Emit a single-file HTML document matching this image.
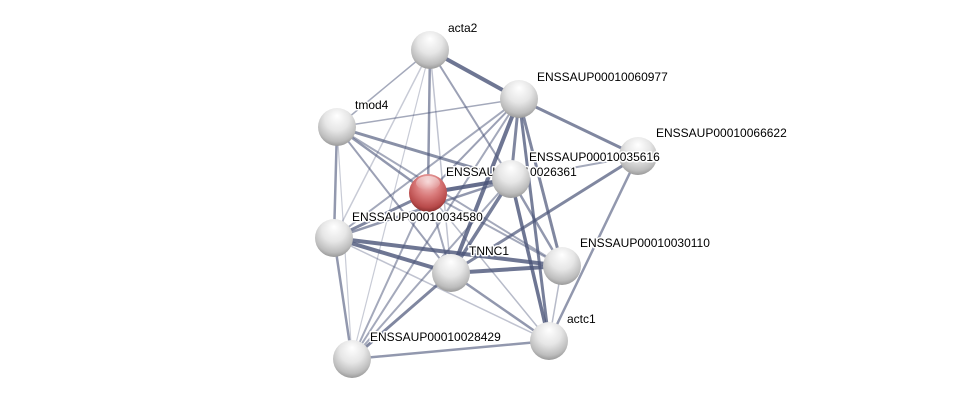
<!DOCTYPE html>
<html><head><meta charset="utf-8"><style>
html,body{margin:0;padding:0;background:#fff;}
svg{display:block;}
text{font-family:"Liberation Sans",sans-serif;font-size:12px;fill:#000;paint-order:stroke;stroke:#fff;stroke-width:3px;stroke-linejoin:round;}
</style></head><body>
<svg width="976" height="404" viewBox="0 0 976 404" xmlns="http://www.w3.org/2000/svg">
<defs>
<radialGradient id="g" cx="50%" cy="35%" r="65%" fx="50%" fy="20%">
<stop offset="0" stop-color="#ffffff"/><stop offset="0.5" stop-color="#e6e6e6"/><stop offset="0.85" stop-color="#bdbdbd"/><stop offset="1" stop-color="#9a9a9a"/>
</radialGradient>
<radialGradient id="r" cx="50%" cy="35%" r="65%" fx="50%" fy="20%">
<stop offset="0" stop-color="#f4c8c8"/><stop offset="0.5" stop-color="#d87878"/><stop offset="0.85" stop-color="#b84a4a"/><stop offset="1" stop-color="#8a3030"/>
</radialGradient>
<linearGradient id="hl" x1="0" y1="0" x2="0" y2="1"><stop offset="0" stop-color="#fff" stop-opacity="0.9"/><stop offset="1" stop-color="#fff" stop-opacity="0"/></linearGradient>
</defs>
<g stroke="#4a5478" stroke-linecap="round">
<line x1="430" y1="50" x2="519" y2="99" stroke-width="4" stroke-opacity="0.8"/>
<line x1="430" y1="50" x2="337" y2="127" stroke-width="1.5" stroke-opacity="0.5"/>
<line x1="430" y1="50" x2="428" y2="193" stroke-width="2.5" stroke-opacity="0.6"/>
<line x1="430" y1="50" x2="334" y2="238" stroke-width="1.5" stroke-opacity="0.3"/>
<line x1="430" y1="50" x2="451" y2="273" stroke-width="1.5" stroke-opacity="0.35"/>
<line x1="430" y1="50" x2="511" y2="179" stroke-width="2" stroke-opacity="0.55"/>
<line x1="430" y1="50" x2="352" y2="359" stroke-width="1.2" stroke-opacity="0.3"/>
<line x1="519" y1="99" x2="337" y2="127" stroke-width="1.5" stroke-opacity="0.5"/>
<line x1="519" y1="99" x2="638" y2="156" stroke-width="3" stroke-opacity="0.7"/>
<line x1="519" y1="99" x2="428" y2="193" stroke-width="2" stroke-opacity="0.55"/>
<line x1="519" y1="99" x2="334" y2="238" stroke-width="2" stroke-opacity="0.5"/>
<line x1="519" y1="99" x2="451" y2="273" stroke-width="4" stroke-opacity="0.8"/>
<line x1="519" y1="99" x2="511" y2="179" stroke-width="3" stroke-opacity="0.7"/>
<line x1="519" y1="99" x2="562" y2="266" stroke-width="3" stroke-opacity="0.7"/>
<line x1="519" y1="99" x2="549" y2="341" stroke-width="3" stroke-opacity="0.75"/>
<line x1="519" y1="99" x2="352" y2="359" stroke-width="2" stroke-opacity="0.5"/>
<line x1="337" y1="127" x2="334" y2="238" stroke-width="2.5" stroke-opacity="0.6"/>
<line x1="337" y1="127" x2="428" y2="193" stroke-width="2.5" stroke-opacity="0.6"/>
<line x1="337" y1="127" x2="511" y2="179" stroke-width="3" stroke-opacity="0.65"/>
<line x1="337" y1="127" x2="451" y2="273" stroke-width="2" stroke-opacity="0.55"/>
<line x1="337" y1="127" x2="562" y2="266" stroke-width="2" stroke-opacity="0.5"/>
<line x1="337" y1="127" x2="352" y2="359" stroke-width="1.2" stroke-opacity="0.3"/>
<line x1="638" y1="156" x2="511" y2="179" stroke-width="2" stroke-opacity="0.5"/>
<line x1="638" y1="156" x2="451" y2="273" stroke-width="3" stroke-opacity="0.7"/>
<line x1="638" y1="156" x2="549" y2="341" stroke-width="2.5" stroke-opacity="0.6"/>
<line x1="428" y1="193" x2="511" y2="179" stroke-width="4" stroke-opacity="0.85"/>
<line x1="428" y1="193" x2="334" y2="238" stroke-width="3" stroke-opacity="0.7"/>
<line x1="428" y1="193" x2="451" y2="273" stroke-width="2" stroke-opacity="0.5"/>
<line x1="428" y1="193" x2="562" y2="266" stroke-width="2" stroke-opacity="0.5"/>
<line x1="428" y1="193" x2="549" y2="341" stroke-width="1.5" stroke-opacity="0.4"/>
<line x1="428" y1="193" x2="352" y2="359" stroke-width="2" stroke-opacity="0.5"/>
<line x1="511" y1="179" x2="334" y2="238" stroke-width="2.5" stroke-opacity="0.6"/>
<line x1="511" y1="179" x2="451" y2="273" stroke-width="3.5" stroke-opacity="0.75"/>
<line x1="511" y1="179" x2="562" y2="266" stroke-width="2.5" stroke-opacity="0.6"/>
<line x1="511" y1="179" x2="549" y2="341" stroke-width="3.5" stroke-opacity="0.8"/>
<line x1="511" y1="179" x2="352" y2="359" stroke-width="2" stroke-opacity="0.5"/>
<line x1="334" y1="238" x2="451" y2="273" stroke-width="4" stroke-opacity="0.8"/>
<line x1="334" y1="238" x2="562" y2="266" stroke-width="4" stroke-opacity="0.8"/>
<line x1="334" y1="238" x2="549" y2="341" stroke-width="1.5" stroke-opacity="0.35"/>
<line x1="334" y1="238" x2="352" y2="359" stroke-width="2.5" stroke-opacity="0.6"/>
<line x1="451" y1="273" x2="562" y2="266" stroke-width="4" stroke-opacity="0.8"/>
<line x1="451" y1="273" x2="549" y2="341" stroke-width="2.5" stroke-opacity="0.6"/>
<line x1="451" y1="273" x2="352" y2="359" stroke-width="3" stroke-opacity="0.7"/>
<line x1="562" y1="266" x2="549" y2="341" stroke-width="1.5" stroke-opacity="0.4"/>
<line x1="549" y1="341" x2="352" y2="359" stroke-width="2.5" stroke-opacity="0.6"/>
</g>
<g>
<circle cx="430" cy="50" r="19" fill="url(#g)"/>
<text x="448" y="32">acta2</text>
<circle cx="519" cy="99" r="19" fill="url(#g)"/>
<text x="537" y="81">ENSSAUP00010060977</text>
<circle cx="337" cy="127" r="19" fill="url(#g)"/>
<text x="355" y="109">tmod4</text>
<circle cx="638" cy="156" r="19" fill="url(#g)"/>
<text x="656" y="137">ENSSAUP00010066622</text>
<circle cx="428" cy="193" r="19" fill="url(#r)"/>
<ellipse cx="428" cy="183" rx="12" ry="7" fill="url(#hl)" opacity="0.6"/>
<text x="446" y="176">ENSSAUP00010026361</text>
<circle cx="511" cy="179" r="19" fill="url(#g)"/>
<text x="529" y="161">ENSSAUP00010035616</text>
<circle cx="334" cy="238" r="19" fill="url(#g)"/>
<text x="352" y="221">ENSSAUP00010034580</text>
<circle cx="562" cy="266" r="19" fill="url(#g)"/>
<text x="580" y="247">ENSSAUP00010030110</text>
<circle cx="451" cy="273" r="19" fill="url(#g)"/>
<text x="469" y="255">TNNC1</text>
<circle cx="549" cy="341" r="19" fill="url(#g)"/>
<text x="567" y="323">actc1</text>
<circle cx="352" cy="359" r="19" fill="url(#g)"/>
<text x="370" y="341">ENSSAUP00010028429</text>
</g>
</svg>
</body></html>
